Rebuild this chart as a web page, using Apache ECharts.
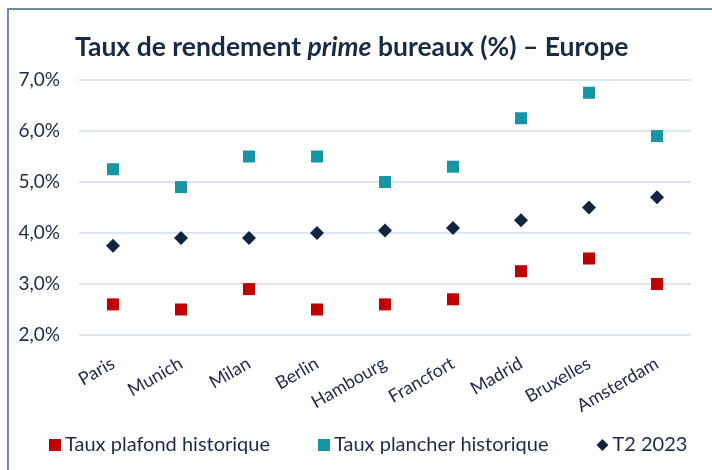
<!DOCTYPE html>
<html>
<head>
<meta charset="utf-8">
<script src="https://cdn.jsdelivr.net/npm/echarts@6/dist/echarts.min.js"></script>
<style>
  html, body { margin: 0; padding: 0; background: #fff; }
  #chart { width: 712px; height: 470px; }
</style>
</head>
<body>
<div id="chart"></div>
<script>
// villes
const cities = ['Paris', 'Munich', 'Milan', 'Berlin', 'Hambourg', 'Francfort', 'Madrid', 'Bruxelles', 'Amsterdam'];
// taux plafond historique (%)
const plafond = [2.6, 2.5, 2.9, 2.5, 2.6, 2.7, 3.25, 3.5, 3.0];
// taux plancher historique (%)
const plancher = [5.25, 4.9, 5.5, 5.5, 5.0, 5.3, 6.25, 6.75, 5.9];
// T2 2023 (%)
const t2 = [3.75, 3.9, 3.9, 4.0, 4.05, 4.1, 4.25, 4.5, 4.7];
const yTicks = [2, 3, 4, 5, 6, 7];

const font = 'Lato, "Open Sans", sans-serif';
const ink = '#1d2a4c';

const myChart = echarts.init(document.getElementById('chart'));
myChart.setOption({
    animation: false,
    title: {
        text: '{b|Taux de rendement }{i|prime}{b| bureaux (%) – Europe}',
        left: 70,
        top: 29,
        textStyle: {
            rich: {
                b: {fontFamily: font, fontWeight: 'bold', fontSize: 26.5, color: '#172b45'},
                i: {fontFamily: font, fontWeight: 'bold', fontStyle: 'italic', fontSize: 26.5, color: '#172b45'}
            }
        }
    },
    graphic: [{
        type: 'rect',
        shape: {x: 8, y: 9, width: 900, height: 700},
        style: {fill: 'none', stroke: '#6c8ca6', lineWidth: 2}
    }],
    legend: {
        bottom: 10,
        left: 44,
        itemWidth: 12,
        itemHeight: 12,
        itemGap: 48,
        textStyle: {fontFamily: font, fontSize: 20, color: ink, padding: [0, 0, 0, -1]},
        data: [
            {name: 'Taux plafond historique', icon: 'rect'},
            {name: 'Taux plancher historique', icon: 'rect'},
            {name: 'T2 2023', icon: 'diamond'}
        ]
    },
    grid: {left: 79, right: 21, top: 80, bottom: 135},
    xAxis: {
        type: 'category',
        data: cities,
        axisLine: {show: false},
        axisTick: {show: false},
        axisLabel: {rotate: 30, margin: 27, fontFamily: font, fontSize: 18, color: ink}
    },
    yAxis: {
        type: 'value',
        min: yTicks[0],
        max: yTicks[yTicks.length - 1],
        interval: 1,
        axisLine: {show: false},
        axisTick: {show: false},
        axisLabel: {
            margin: 19,
            fontFamily: font, fontSize: 19, color: ink,
            formatter: v => v.toFixed(1).replace('.', ',') + '%'
        },
        splitLine: {lineStyle: {color: '#d3def0', width: 1.5}}
    },
    series: [
        {
            name: 'Taux plafond historique',
            type: 'scatter',
            symbol: 'rect',
            symbolSize: 12,
            itemStyle: {color: '#c00000', opacity: 1},
            data: plafond
        },
        {
            name: 'Taux plancher historique',
            type: 'scatter',
            symbol: 'rect',
            symbolSize: 12,
            itemStyle: {color: '#1895a2', opacity: 1},
            data: plancher
        },
        {
            name: 'T2 2023',
            type: 'scatter',
            symbol: 'diamond',
            symbolSize: [14, 14],
            itemStyle: {color: '#13243f', opacity: 1},
            data: t2
        }
    ]
});
</script>
</body>
</html>
